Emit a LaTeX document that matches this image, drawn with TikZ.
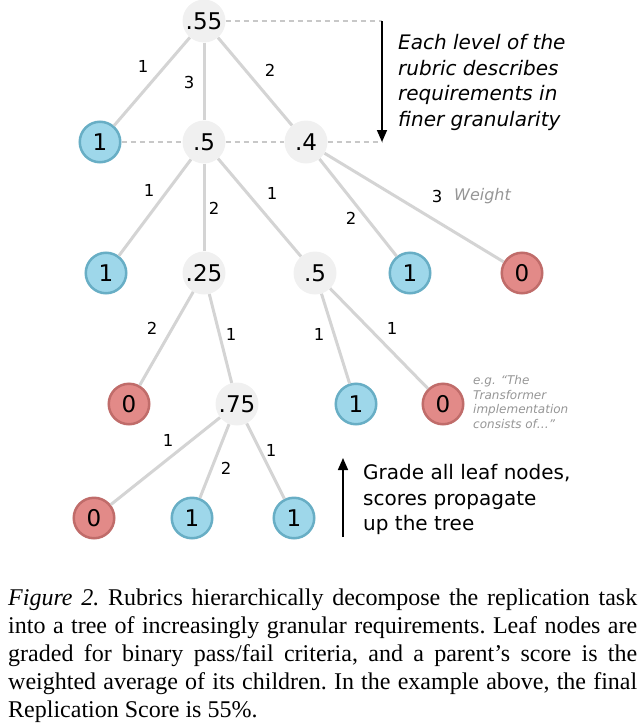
\documentclass[tikz,border=0pt]{standalone}
\usepackage{fontspec}
\setmainfont{DejaVu Sans}
\newfontfamily\capfont{Liberation Serif}
\usetikzlibrary{arrows.meta}

\definecolor{nodegray}{RGB}{240,240,240}
\definecolor{passfill}{RGB}{158,215,234}
\definecolor{passline}{RGB}{104,174,197}
\definecolor{failfill}{RGB}{226,138,136}
\definecolor{failline}{RGB}{192,108,106}
\definecolor{edgegray}{RGB}{212,212,212}
\definecolor{dashgray}{RGB}{200,200,200}
\definecolor{notegray}{RGB}{150,150,150}

\tikzstyle{score} = [circle, fill=nodegray, minimum size=43pt, inner sep=0pt, font=\fontsize{23}{23}\selectfont]
\tikzstyle{pass} = [score, draw=passline, fill=passfill, line width=2.5pt, minimum size=40.5pt]
\tikzstyle{fail} = [score, draw=failline, fill=failfill, line width=2.5pt, minimum size=40.5pt]
\tikzstyle{line} = [draw, edgegray, line width=3pt]
\tikzstyle{level} = [draw, dashgray, line width=1.5pt, dash pattern=on 5pt off 4pt]
\tikzstyle{weight} = [inner sep=0pt, font=\fontsize{16.5}{16.5}\selectfont]
\tikzstyle{note} = [inner sep=0pt, anchor=west, align=left, font=\fontsize{20}{25.7}\selectfont]
\tikzstyle{arrow} = [draw, line width=1.6pt, -{Triangle[length=12pt,width=10pt]}]

\begin{document}
\begin{tikzpicture}[x=1pt, y=-1pt]
	\useasboundingbox (0,0) rectangle (641,723);

	% tree
	\node [score] (root) at (204,21) {.55};
	\node [pass] (a1) at (100,142) {1};
	\node [score] (a2) at (204,142) {.5};
	\node [score] (a3) at (306,142) {.4};
	\node [pass] (b1) at (106,273) {1};
	\node [score] (b2) at (204,273) {.25};
	\node [score] (b3) at (315,273) {.5};
	\node [pass] (b4) at (410,273) {1};
	\node [fail] (b5) at (522,273) {0};
	\node [fail] (c1) at (129,404) {0};
	\node [score] (c2) at (237,404) {.75};
	\node [pass] (c3) at (356,404) {1};
	\node [fail] (c4) at (443,404) {0};
	\node [fail] (d1) at (94,518) {0};
	\node [pass] (d2) at (192,518) {1};
	\node [pass] (d3) at (294,518) {1};

	\path[line] (root) -- (a1);
	\path[line] (root) -- (a2);
	\path[line] (root) -- (a3);
	\path[line] (a2) -- (b1);
	\path[line] (a2) -- (b2);
	\path[line] (a2) -- (b3);
	\path[line] (a3) -- (b4);
	\path[line] (a3) -- (b5);
	\path[line] (b2) -- (c1);
	\path[line] (b2) -- (c2);
	\path[line] (b3) -- (c3);
	\path[line] (b3) -- (c4);
	\path[line] (c2) -- (d1);
	\path[line] (c2) -- (d2);
	\path[line] (c2) -- (d3);

	% weights
	\node [weight] (w1) at (143,66) {1};
	\node [weight] (w2) at (189,82) {3};
	\node [weight] (w3) at (270,70) {2};
	\node [weight] (w4) at (149,190) {1};
	\node [weight] (w5) at (214,208) {2};
	\node [weight] (w6) at (272,193) {1};
	\node [weight] (w7) at (351,218) {2};
	\node [weight] (w8) at (437,196) {3};
	\node [weight, text=notegray, font=\fontsize{16}{16}\selectfont\itshape, anchor=west] (wlabel) at (454,196) {Weight};
	\node [weight] (w9) at (152,328) {2};
	\node [weight] (w10) at (231,334) {1};
	\node [weight] (w11) at (319,334) {1};
	\node [weight] (w12) at (392,328) {1};
	\node [weight] (w13) at (168,440) {1};
	\node [weight] (w14) at (226,468) {2};
	\node [weight] (w15) at (271,450) {1};

	% levels
	\coordinate (top) at (382,21);
	\coordinate (bottom) at (382,142);
	\path[level] (root) -- (top);
	\path[level] (a1) -- (a2);
	\path[level] (a2) -- (a3);
	\path[level] (a3) -- (bottom);
	\path[arrow] (top) -- (bottom);
	\node [note, font=\fontsize{20}{25.7}\selectfont\itshape] (down) at (398,82.5) {Each level of the\\rubric describes\\requirements in\\finer granularity};

	\coordinate (up1) at (343,537);
	\coordinate (up2) at (343,458);
	\path[arrow] (up1) -- (up2);
	\node [note] (up) at (363,499.5) {Grade all leaf nodes,\\scores propagate\\up the tree};

	\node [note, text=notegray, font=\fontsize{12}{14.8}\selectfont\itshape] (example) at (473,402) {e.g. “The\\Transformer\\implementation\\consists of…”};

	% caption
	\node [inner sep=0pt, anchor=north west, text width=629pt, align=justify, font=\capfont\fontsize{24}{28}\selectfont\frenchspacing] (caption) at (8,589) {\textit{Figure 2.} Rubrics hierarchically decompose the replication task\linebreak into a tree of increasingly granular requirements. Leaf nodes are\linebreak graded for binary pass/fail criteria, and a parent’s score is the\linebreak weighted average of its children. In the example above, the final\linebreak Replication Score is 55\%.};
\end{tikzpicture}
\end{document}
